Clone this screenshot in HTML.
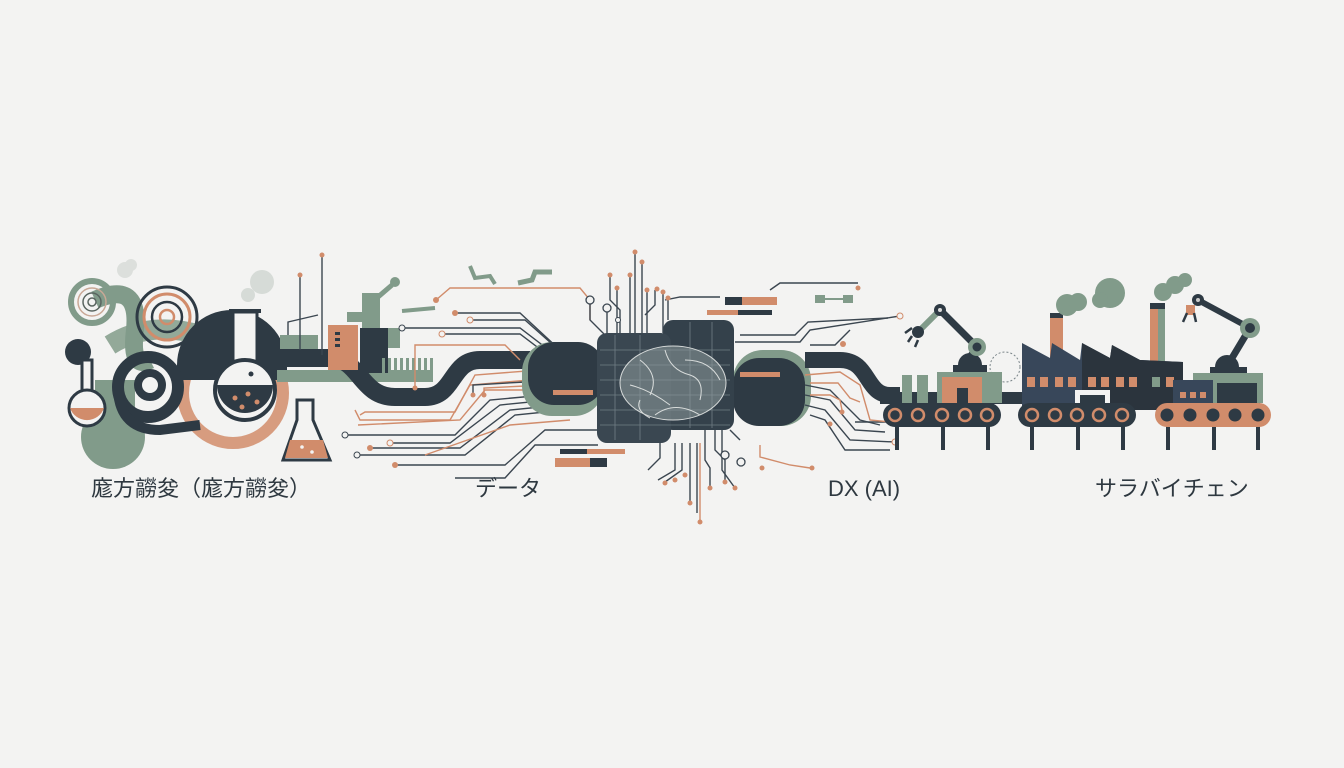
<!DOCTYPE html>
<html><head><meta charset="utf-8"><style>
html,body{margin:0;padding:0;background:#f3f3f2;}
svg{display:block}
text{font-family:"Liberation Sans","Noto Sans CJK JP",sans-serif;fill:#2e3840;font-size:22px}
</style></head><body>
<svg width="1344" height="768" viewBox="0 0 1344 768" xmlns="http://www.w3.org/2000/svg">
<rect width="1344" height="768" fill="#f3f3f2"/>
<defs>
<style>.d{fill:#2e3a44}.g{fill:#819b8a}.o{fill:#d18c6b}.ls{fill:none;stroke:#3b4650;stroke-width:1.4}.lo{fill:none;stroke:#d18c6b;stroke-width:1.4}</style>
</defs>

<!-- LEFT: lab -->
<circle cx="125" cy="270" r="8" fill="#dcdfdc"/><circle cx="131" cy="265" r="6" fill="#dcdfdc"/>
<circle cx="262" cy="282" r="12" fill="#d6dbd7"/><circle cx="248" cy="295" r="7" fill="#d6dbd7"/>
<path d="M95 300 Q140 280 135 330 Q130 370 150 360" fill="none" stroke="#819b8a" stroke-width="18"/>
<circle cx="92" cy="302" r="21" fill="none" stroke="#819b8a" stroke-width="6"/>
<circle cx="92" cy="302" r="14" fill="none" stroke="#c9a896" stroke-width="1.5"/>
<circle cx="92" cy="302" r="9" fill="none" stroke="#5a6560" stroke-width="1.5"/>
<circle cx="92" cy="302" r="4" fill="none" stroke="#5a6560" stroke-width="1.5"/>
<path d="M110 345 Q150 320 200 335" fill="none" stroke="#819b8a" stroke-width="20" opacity=".85"/>
<circle cx="113" cy="437" r="32" class="g"/>
<rect x="95" y="380" width="40" height="60" class="g"/>
<circle cx="167" cy="317" r="30" fill="none" stroke="#2e3a44" stroke-width="3"/>
<circle cx="167" cy="317" r="23" fill="none" stroke="#d18c6b" stroke-width="3"/>
<circle cx="167" cy="317" r="15" fill="none" stroke="#2e3a44" stroke-width="2.5"/>
<circle cx="167" cy="317" r="7" fill="none" stroke="#d18c6b" stroke-width="2.5"/>
<circle cx="233" cy="393" r="50" fill="none" stroke="#d18c6b" stroke-width="12" opacity=".85"/>
<path d="M177 365 A55 55 0 0 1 287 365 L287 380 L177 380 Z" class="d"/>
<circle cx="148" cy="387" r="30" fill="none" stroke="#2e3a44" stroke-width="12"/>
<circle cx="150" cy="385" r="12" fill="none" stroke="#2e3a44" stroke-width="8"/>
<path d="M118 390 Q120 430 160 430 L200 425" fill="none" stroke="#2e3a44" stroke-width="10"/>
<circle cx="78" cy="352" r="13" class="d"/>
<rect x="82" y="360" width="10" height="32" fill="#f3f3f2" stroke="#2e3a44" stroke-width="3"/>
<circle cx="87" cy="408" r="18" fill="#f3f3f2" stroke="#2e3a44" stroke-width="3"/>
<path d="M70 408 A18 18 0 0 0 104 408 Z" class="o"/>
<!-- big flask -->
<rect x="233" y="312" width="24" height="50" fill="#f3f3f2" stroke="#2e3a44" stroke-width="3"/>
<rect x="229" y="309" width="32" height="4" class="d"/>
<circle cx="245" cy="390" r="30" fill="#f3f3f2" stroke="#2e3a44" stroke-width="4"/>
<path d="M217 385 L273 385 A28 28 0 0 1 217 385 Z" class="d"/>
<circle cx="235" cy="398" r="2.5" class="o"/><circle cx="248" cy="394" r="2.5" class="o"/><circle cx="257" cy="402" r="2.5" class="o"/><circle cx="242" cy="407" r="2.5" class="o"/>
<circle cx="251" cy="374" r="2.5" class="d"/>
<!-- erlenmeyer -->
<path d="M297 400 L313 400 L313 420 L330 460 L283 460 L297 420 Z" fill="#f3f3f2" stroke="#2e3a44" stroke-width="3"/>
<path d="M290 440 L323 440 L328 458 L285 458 Z" class="o"/>
<circle cx="302" cy="447" r="1.8" fill="#f3f3f2"/><circle cx="312" cy="452" r="1.8" fill="#f3f3f2"/>
<!-- pipes -->
<rect x="280" y="335" width="38" height="16" class="g"/>
<path d="M277 376 L433 376" stroke="#819b8a" stroke-width="12" fill="none"/>
<path d="M280 358 L330 358 C360 358 360 397 395 397 L425 397 C455 397 450 360 480 360 L530 360" stroke="#2e3a44" stroke-width="18" fill="none"/>
<line x1="300" y1="275" x2="300" y2="350" class="ls"/><circle cx="300" cy="275" r="2.5" class="o"/>
<line x1="322" y1="255" x2="322" y2="355" class="ls"/><circle cx="322" cy="255" r="2.5" class="o"/>
<polyline points="288,335 288,322 318,315" class="ls"/>
<!-- small factory -->
<rect x="328" y="325" width="30" height="45" class="o"/>
<rect x="335" y="332" width="5" height="3" class="d"/><rect x="335" y="338" width="5" height="3" class="d"/><rect x="335" y="344" width="5" height="3" class="d"/>
<rect x="362" y="293" width="18" height="35" class="g"/>
<rect x="347" y="312" width="18" height="10" class="g"/>
<circle cx="395" cy="282" r="5" class="g"/><path d="M378 297 L392 285" stroke="#819b8a" stroke-width="5"/>
<rect x="360" y="328" width="28" height="45" class="d"/>
<rect x="388" y="328" width="12" height="20" class="g"/>
<g fill="#819b8a"><rect x="382" y="358" width="3" height="15"/><rect x="388" y="358" width="3" height="15"/><rect x="394" y="358" width="3" height="15"/><rect x="400" y="358" width="3" height="15"/><rect x="406" y="358" width="3" height="15"/><rect x="412" y="358" width="3" height="15"/><rect x="418" y="358" width="3" height="15"/><rect x="424" y="358" width="3" height="15"/><rect x="430" y="358" width="3" height="15"/></g>
<path d="M402 311 L435 308" stroke="#819b8a" stroke-width="4"/>
<path d="M470 266 L475 278 L490 276 L495 284" stroke="#819b8a" stroke-width="4" fill="none"/>
<path d="M518 283 L532 280 L535 272 L552 272" stroke="#819b8a" stroke-width="5" fill="none"/>

<!-- circuit lines left -->
<polyline points="436,300 450,288 580,288 590,300 590,320" class="lo"/><circle cx="436" cy="300" r="3" class="o"/>
<polyline points="455,313 520,313 560,350" class="ls"/><circle cx="455" cy="313" r="3" class="o"/>
<polyline points="470,320 525,320 570,360" class="ls"/><circle cx="470" cy="320" r="3" fill="#f3f3f2" stroke="#d18c6b"/>
<polyline points="402,328 520,328 575,370" class="ls"/><circle cx="402" cy="328" r="3" fill="#f3f3f2" stroke="#3b4650"/>
<polyline points="442,334 520,334 578,378" class="ls"/><circle cx="442" cy="334" r="3" fill="#f3f3f2" stroke="#d18c6b"/>
<polyline points="415,388 415,345 505,345 520,360" class="lo"/><circle cx="415" cy="388" r="2.5" class="o"/>
<polyline points="355,410 360,420 450,420 470,385 530,380" class="lo"/>
<polyline points="360,415 365,412 455,412 475,375 540,370" class="lo"/>
<polyline points="473,395 473,385 525,382" class="ls"/><circle cx="473" cy="395" r="2.5" class="o"/>
<polyline points="484,395 484,388 525,386" class="lo"/><circle cx="484" cy="395" r="2.5" class="o"/>
<polyline points="358,425 460,420 485,390 540,390" class="lo"/>
<polyline points="345,435 455,435 490,400 545,395" class="ls"/><circle cx="345" cy="435" r="3" fill="#f3f3f2" stroke="#3b4650"/>
<polyline points="390,443 450,443 500,405 550,400" class="ls"/><circle cx="390" cy="443" r="3" fill="#f3f3f2" stroke="#d18c6b"/>
<polyline points="370,448 460,448 510,410 560,405" class="ls"/><circle cx="370" cy="448" r="3" class="o"/>
<polyline points="357,455 465,455 515,415 565,410" class="ls"/><circle cx="357" cy="455" r="3" fill="#f3f3f2" stroke="#3b4650"/>
<polyline points="425,455 510,425 570,420" class="lo"/>
<polyline points="395,465 505,465 545,430 600,430" class="ls"/><circle cx="395" cy="465" r="3" class="o"/>
<polyline points="455,478 505,478 535,445 598,445" class="ls"/>

<!-- CENTER -->
<rect x="522" y="342" width="82" height="74" rx="30" class="g"/>
<rect x="528" y="342" width="76" height="63" rx="26" class="d"/>
<rect x="553" y="390" width="40" height="5" class="o"/>
<rect x="733" y="350" width="78" height="76" rx="30" class="g"/>
<rect x="733" y="358" width="72" height="68" rx="26" class="d"/>
<rect x="740" y="372" width="40" height="5" class="o"/>
<rect x="663" y="320" width="71" height="110" rx="10" fill="#34414b"/>
<rect x="597" y="333" width="74" height="110" rx="10" fill="#3a4751"/>
<g stroke="#7f8d93" stroke-width=".8" fill="none" opacity=".8">
<line x1="600" y1="350" x2="730" y2="350"/><line x1="600" y1="365" x2="730" y2="365"/><line x1="600" y1="380" x2="730" y2="380"/><line x1="600" y1="395" x2="730" y2="395"/><line x1="600" y1="410" x2="730" y2="410"/><line x1="600" y1="425" x2="730" y2="425"/>
<line x1="615" y1="335" x2="615" y2="440"/><line x1="640" y1="335" x2="640" y2="440"/><line x1="690" y1="322" x2="690" y2="428"/><line x1="712" y1="322" x2="712" y2="428"/>
</g>
<ellipse cx="673" cy="383" rx="53" ry="37" fill="#8e9a9c" opacity=".55"/>
<g stroke="#eef0ee" stroke-width="1" fill="none" opacity=".85">
<ellipse cx="673" cy="383" rx="53" ry="37"/>
<path d="M640 360 Q660 375 650 395 M665 350 Q670 370 690 375 Q705 380 700 400 M630 385 Q650 390 670 405 M685 360 Q710 360 720 380 M655 415 Q675 400 700 415 M640 400 Q635 410 650 418"/>
</g>
<rect x="725" y="297" width="17" height="8" class="d"/><rect x="742" y="297" width="35" height="8" class="o"/>
<rect x="707" y="310" width="31" height="5" class="o"/><rect x="738" y="310" width="34" height="5" class="d"/>
<rect x="815" y="295" width="10" height="8" class="g"/><rect x="843" y="295" width="10" height="8" class="g"/><line x1="825" y1="299" x2="843" y2="299" stroke="#819b8a" stroke-width="2"/>
<rect x="560" y="449" width="27" height="5" class="d"/><rect x="587" y="449" width="38" height="5" class="o"/>
<rect x="555" y="458" width="35" height="9" class="o"/><rect x="590" y="458" width="17" height="9" class="d"/>
<!-- top verticals -->
<g class="ls">
<polyline points="635,253 635,333"/><polyline points="642,262 642,333"/><polyline points="630,275 630,333"/><polyline points="610,275 610,300 620,310 620,333"/><polyline points="617,287 617,333"/><polyline points="647,290 647,333"/><polyline points="655,290 655,305 645,315"/><polyline points="663,292 663,333"/><polyline points="668,297 668,320"/><polyline points="590,302 590,320 605,335"/><polyline points="607,310 607,335"/><polyline points="665,300 680,297 720,297"/>
<polyline points="770,290 780,283 858,283"/>
</g>
<g class="o"><circle cx="635" cy="252" r="2.5"/><circle cx="642" cy="262" r="2.5"/><circle cx="630" cy="275" r="2.5"/><circle cx="610" cy="275" r="2.5"/><circle cx="617" cy="288" r="2.5"/><circle cx="647" cy="290" r="2.5"/><circle cx="657" cy="289" r="2.5"/><circle cx="663" cy="292" r="2.5"/><circle cx="668" cy="298" r="2.5"/><circle cx="858" cy="288" r="2.5"/></g>
<circle cx="590" cy="300" r="4" fill="#f3f3f2" stroke="#3b4650" stroke-width="1.3"/><circle cx="607" cy="308" r="4" fill="#f3f3f2" stroke="#3b4650" stroke-width="1.3"/><circle cx="618" cy="320" r="2.5" fill="#f3f3f2" stroke="#3b4650"/>
<!-- bottom verticals -->
<g class="ls">
<polyline points="690,443 690,503"/><polyline points="697,443 697,513"/><polyline points="682,443 682,470 665,482"/><polyline points="675,443 675,470 658,480"/><polyline points="705,430 705,460 710,468 710,488"/><polyline points="715,430 715,450 725,460 725,480"/><polyline points="722,430 722,470 735,488"/><polyline points="730,430 740,440"/><polyline points="660,443 660,458 648,470"/>
</g>
<line x1="700" y1="443" x2="700" y2="522" class="lo"/>
<g class="o"><circle cx="690" cy="503" r="2.5"/><circle cx="700" cy="522" r="2.5"/><circle cx="665" cy="483" r="2.5"/><circle cx="675" cy="480" r="2.5"/><circle cx="685" cy="475" r="2.5"/><circle cx="710" cy="488" r="2.5"/><circle cx="725" cy="482" r="2.5"/><circle cx="735" cy="488" r="2.5"/><circle cx="762" cy="468" r="2.5"/><circle cx="812" cy="468" r="2.5"/></g>
<circle cx="725" cy="455" r="4" fill="#f3f3f2" stroke="#3b4650" stroke-width="1.3"/><circle cx="741" cy="462" r="4" fill="#f3f3f2" stroke="#3b4650" stroke-width="1.3"/>
<polyline points="760,445 760,457 790,465 810,468" class="lo"/>
<!-- right circuits -->
<g class="ls">
<polyline points="735,342 800,342 810,330 900,316"/>
<polyline points="740,335 795,335 808,322 888,318"/>
<polyline points="810,345 835,345 850,330"/>
<polyline points="805,385 830,390 860,420 880,425"/>
<polyline points="805,395 830,400 855,430 885,432"/>
<polyline points="805,405 825,410 850,440 895,442"/>
<polyline points="810,415 825,420 845,450 890,450"/>
<polyline points="855,422 900,422"/>
</g>
<g class="lo">
<polyline points="805,375 840,372 860,385 870,420 900,423"/>
<polyline points="810,383 838,383 850,398 860,402"/>
<polyline points="810,395 830,395 840,400 842,410"/>
</g>
<circle cx="900" cy="316" r="3" fill="#f3f3f2" stroke="#d18c6b"/><circle cx="843" cy="344" r="3" class="o"/><circle cx="842" cy="412" r="2.5" class="o"/><circle cx="830" cy="424" r="2.5" class="o"/><circle cx="895" cy="442" r="3" fill="#f3f3f2" stroke="#d18c6b"/>
<path d="M805 360 L840 360 C870 360 865 395 890 395 L900 395" stroke="#2e3a44" stroke-width="16" fill="none"/>

<!-- RIGHT: factory -->
<rect x="880" y="392" width="380" height="12" class="d"/>
<rect x="902" y="375" width="10" height="28" class="g"/><rect x="917" y="375" width="11" height="28" class="g"/>
<circle cx="1005" cy="367" r="15" fill="none" stroke="#7a8589" stroke-width="1" stroke-dasharray="2 2"/>
<!-- robot 1 -->
<rect x="937" y="372" width="65" height="31" class="g"/>
<rect x="942" y="377" width="40" height="26" class="o"/>
<rect x="957" y="388" width="11" height="15" class="d"/>
<rect x="953" y="365" width="34" height="7" class="d"/>
<path d="M958 365 A12 12 0 0 1 982 365 Z" class="d"/>
<line x1="977" y1="347" x2="940" y2="310" stroke="#2e3a44" stroke-width="7"/>
<line x1="977" y1="347" x2="968" y2="360" stroke="#2e3a44" stroke-width="7"/>
<circle cx="977" cy="347" r="9" class="g"/><circle cx="977" cy="347" r="4.5" class="d"/>
<line x1="940" y1="310" x2="920" y2="330" stroke="#819b8a" stroke-width="6"/>
<circle cx="940" cy="310" r="6" class="d"/><circle cx="940" cy="310" r="2" fill="#ddd"/>
<circle cx="918" cy="332" r="6" class="d"/>
<path d="M912 328 L905 333 M912 336 L908 342 M918 340 L915 347" stroke="#2e3a44" stroke-width="2.5"/>
<!-- conveyors -->
<g class="d"><rect x="895" y="425" width="4" height="25"/><rect x="941" y="425" width="4" height="25"/><rect x="986" y="425" width="4" height="25"/>
<rect x="1030" y="425" width="4" height="25"/><rect x="1076" y="425" width="4" height="25"/><rect x="1121" y="425" width="4" height="25"/>
<rect x="1166" y="425" width="4" height="25"/><rect x="1212" y="425" width="4" height="25"/><rect x="1256" y="425" width="4" height="25"/></g>
<rect x="883" y="403" width="118" height="24" rx="12" class="d"/>
<g fill="none" stroke="#d18c6b" stroke-width="2.5"><circle cx="895" cy="415" r="6"/><circle cx="918" cy="415" r="6"/><circle cx="942" cy="415" r="6"/><circle cx="965" cy="415" r="6"/><circle cx="987" cy="415" r="6"/>
<circle cx="1032" cy="415" r="6"/><circle cx="1055" cy="415" r="6"/><circle cx="1077" cy="415" r="6"/><circle cx="1099" cy="415" r="6"/><circle cx="1122" cy="415" r="6"/></g>
<!-- factory building -->
<rect x="1050" y="313" width="13" height="50" class="o"/><rect x="1050" y="313" width="13" height="5" class="d"/>
<rect x="1150" y="303" width="15" height="60" class="o"/><rect x="1158" y="303" width="7" height="60" class="g"/><rect x="1150" y="303" width="15" height="6" class="d"/>
<circle cx="1067" cy="305" r="11" class="g"/><circle cx="1078" cy="302" r="9" class="g"/><circle cx="1110" cy="293" r="15" class="g"/><circle cx="1100" cy="300" r="8" class="g"/>
<circle cx="1163" cy="292" r="9" class="g"/><circle cx="1175" cy="285" r="9" class="g"/><circle cx="1185" cy="280" r="7" class="g"/>
<path d="M1022 343 L1050 358 L1052 343 L1080 360 L1082 343 L1110 358 L1112 345 L1140 360 L1183 362 L1183 410 L1022 410 Z" fill="#38475a"/>
<path d="M1082 343 L1110 358 L1112 345 L1140 360 L1183 362 L1183 410 L1082 410 Z" fill="#2b343d"/>
<g class="o"><rect x="1027" y="377" width="8" height="10"/><rect x="1040" y="377" width="8" height="10"/><rect x="1055" y="377" width="8" height="10"/><rect x="1068" y="377" width="8" height="10"/><rect x="1088" y="377" width="8" height="10"/><rect x="1101" y="377" width="8" height="10"/><rect x="1116" y="377" width="8" height="10"/><rect x="1129" y="377" width="8" height="10"/><rect x="1166" y="377" width="8" height="10"/></g>
<rect x="1152" y="377" width="8" height="10" class="g"/>
<rect x="1075" y="390" width="35" height="14" fill="#f3f3f2"/><rect x="1080" y="395" width="25" height="9" class="d"/>
<rect x="1018" y="403" width="118" height="24" rx="12" class="d"/>
<g fill="none" stroke="#d18c6b" stroke-width="2.5"><circle cx="1032" cy="415" r="6"/><circle cx="1055" cy="415" r="6"/><circle cx="1077" cy="415" r="6"/><circle cx="1099" cy="415" r="6"/><circle cx="1122" cy="415" r="6"/></g>
<!-- robot 2 -->
<rect x="1193" y="373" width="70" height="30" class="g"/>
<rect x="1217" y="383" width="40" height="20" class="d"/>
<rect x="1173" y="380" width="40" height="23" fill="#38475a"/>
<rect x="1180" y="392" width="6" height="6" class="o"/><rect x="1190" y="392" width="6" height="6" class="o"/><rect x="1200" y="392" width="6" height="6" class="o"/>
<rect x="1210" y="367" width="37" height="6" class="d"/>
<path d="M1215 367 A12 12 0 0 1 1239 367 Z" class="d"/>
<line x1="1250" y1="328" x2="1232" y2="358" stroke="#2e3a44" stroke-width="7"/>
<line x1="1250" y1="328" x2="1198" y2="300" stroke="#2e3a44" stroke-width="6"/>
<circle cx="1250" cy="328" r="10" class="g"/><circle cx="1250" cy="328" r="5" class="d"/>
<circle cx="1198" cy="300" r="6" class="d"/><circle cx="1198" cy="300" r="2" fill="#ccc"/>
<path d="M1186 305 L1195 305 L1195 315 L1186 315 Z" class="o"/>
<path d="M1187 313 L1183 322 M1194 313 L1196 322" stroke="#2e3a44" stroke-width="2.5"/>
<rect x="1155" y="403" width="116" height="24" rx="12" class="o"/>
<g class="d"><circle cx="1167" cy="415" r="6.5"/><circle cx="1190" cy="415" r="6.5"/><circle cx="1213" cy="415" r="6.5"/><circle cx="1235" cy="415" r="6.5"/><circle cx="1258" cy="415" r="6.5"/></g>

<!-- labels -->
<text x="91" y="496">庬方髝夋（庬方髝夋）</text>
<text x="475" y="496">データ</text>
<text x="828" y="496">DX (AI)</text>
<text x="1095" y="496">サラバイチェン</text>
</svg>
</body></html>
